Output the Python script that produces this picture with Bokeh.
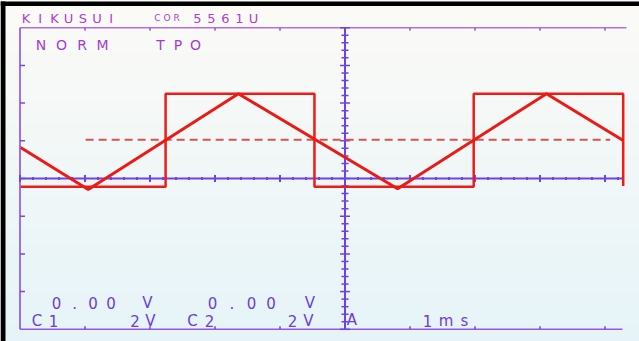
import numpy as np
from bokeh.plotting import figure
from bokeh.models import Range1d
from bokeh.embed import file_html
from bokeh.resources import INLINE
from bokeh.core.properties import value

# ---- trace data, in graticule divisions (x: 1 ms/div, y: 2 V/div) ----
square_t = [-4.99, -2.76, -2.76, -0.47, -0.47, 1.98, 1.98, 4.28, 4.28]
square_v = [-0.22, -0.22, 2.25, 2.25, -0.22, -0.22, 2.25, 2.25, -0.20]
tri_t = [-4.99, -3.95, -1.64, 0.81, 3.10, 4.28]
tri_v = [0.82, -0.29, 2.25, -0.27, 2.25, 1.01]
ref_t = [-3.99, 4.08]
ref_v = [1.03, 1.03]

# screen labels: (text, first char centre px, pitch px, baseline px, size, colour)
top_labels = [
    ("KIKUSUI", 25.5, 14.2, 21, "13px", "#b23ed2"),
    ("COR", 157, 9.6, 20, "9px", "#b23ed2"),
    ("5561U", 197, 14.0, 21, "13px", "#b23ed2"),
    ("NORM", 40.5, 20.5, 47, "14px", "#a63ad6"),
    ("TPO", 160, 17.5, 47, "14px", "#a63ad6"),
]
bottom_labels = [
    ("0.00 V", 56, 18.2, 305, "15px", "#6b40dc"),
    ("0.00 V", 212, 19.5, 305, "15px", "#6b40dc"),
    ("C1", 36.5, 16.5, 323, "15px", "#6b40dc"),
    ("2V", 134.5, 15.5, 323, "15px", "#6b40dc"),
    ("C2", 192, 17, 323, "15px", "#6b40dc"),
    ("2V", 292, 16, 323, "15px", "#6b40dc"),
    ("A", 351.5, 15, 322, "15px", "#6b40dc"),
    ("1ms", 427, 18.5, 323, "15px", "#6b40dc"),
]

# ---- layout helpers (page px -> graticule divisions) ----
W, H = 639, 341
OFF = 0
PX0, DX = 344.5, 65.0
PY0, DY = 178.0, 37.7
TEXT_SHIFT = 3


def X(px):
    return (px - PX0) / DX


def Y(py):
    return (PY0 - py) / DY


p = figure(width=W, height=H, x_range=Range1d(X(OFF), X(OFF + W)),
           y_range=Range1d(Y(OFF + H), Y(OFF)), output_backend="svg",
           toolbar_location=None, min_border=0, outline_line_color=None,
           x_axis_location=None, y_axis_location=None)
p.grid.visible = False
p.background_fill_color = "#f6fafa"
p.border_fill_color = "#ffffff"

# subtle vertical gradient of the screen photo
n = 64
img = np.empty((n, 1), dtype=np.uint32)
view = img.view(dtype=np.uint8).reshape((n, 1, 4))
for i in range(n):
    f = i / (n - 1)  # 0 bottom, 1 top
    view[i, 0, 0] = int(230 + 22 * f)
    view[i, 0, 1] = int(244 + 7 * f)
    view[i, 0, 2] = int(249 - 2 * f)
    view[i, 0, 3] = 255
p.image_rgba(image=[img], x=X(OFF), y=Y(OFF + H), dw=X(OFF + W) - X(OFF), dh=Y(OFF) - Y(OFF + H))

# black photo edges (left and top)
p.quad(left=X(0), right=X(5), bottom=Y(OFF + H), top=Y(1), fill_color="black", line_color=None)
p.quad(left=X(0), right=X(OFF + W), bottom=Y(5.5), top=Y(1), fill_color="black", line_color=None)

frame_col = "#9a55e4"
axis_col = "#6c44e6"

# frame
p.line([-5, X(626)], [4, 4], line_color="#b86ee0", line_width=1.5)
p.line([-5, X(622)], [-4, -4], line_color=frame_col, line_width=1.5)
p.line([-5, -5], [-4, 4], line_color="#7c45f0", line_width=1.5)

# frame ticks
fx = np.arange(-4, 5)
p.segment(x0=fx, y0=[4] * len(fx), x1=fx, y1=[4 - 3 / DY] * len(fx), line_color=frame_col, line_width=1.5)
p.segment(x0=fx, y0=[-4] * len(fx), x1=fx, y1=[-4 + 3 / DY] * len(fx), line_color=axis_col, line_width=1.5)
fy = np.arange(-3, 4)
p.segment(x0=[-5] * len(fy), y0=fy, x1=[-5 + 5 / DX] * len(fy), y1=fy, line_color="#7c45f0", line_width=1.5)

# centre axes
p.line([-5, X(622)], [0, 0], line_color=axis_col, line_width=2)
p.line([0, 0], [-4, 4], line_color=axis_col, line_width=2)

hx = np.round(np.arange(-5, 4.25, 0.2), 3)
hl = np.where(np.isclose(hx, np.round(hx)), 3.5, 1.5) / DY
p.segment(x0=hx, y0=-hl, x1=hx, y1=hl, line_color=axis_col, line_width=2)
vy = np.round(np.arange(-4, 4.01, 0.2), 3)
vl = np.where(np.isclose(vy, np.round(vy)), 5.0, 3.5) / DX
p.segment(x0=-vl, y0=vy, x1=vl, y1=vy, line_color=axis_col, line_width=1.5)

# traces
p.line(ref_t, ref_v, line_color="#d9534e", line_width=2, line_dash="8 5")
p.line(square_t, square_v, line_color="#ee1c16", line_width=2.5)
p.line(tri_t, tri_v, line_color="#ec1a16", line_width=3)


def place(labels):
    for s, x0, pitch, base, size, col in labels:
        xs, ys, ts = [], [], []
        for i, ch in enumerate(s):
            if ch == " ":
                continue
            xs.append(X(x0 + i * pitch))
            ys.append(Y(base - TEXT_SHIFT))
            ts.append(ch)
        p.text(x=xs, y=ys, text=ts, text_color=col, text_font=value("DejaVu Sans"),
               text_font_size=size, text_align="center", text_baseline="alphabetic")


place(top_labels)
place(bottom_labels)

open("out.html", "w").write(file_html(p, INLINE))
